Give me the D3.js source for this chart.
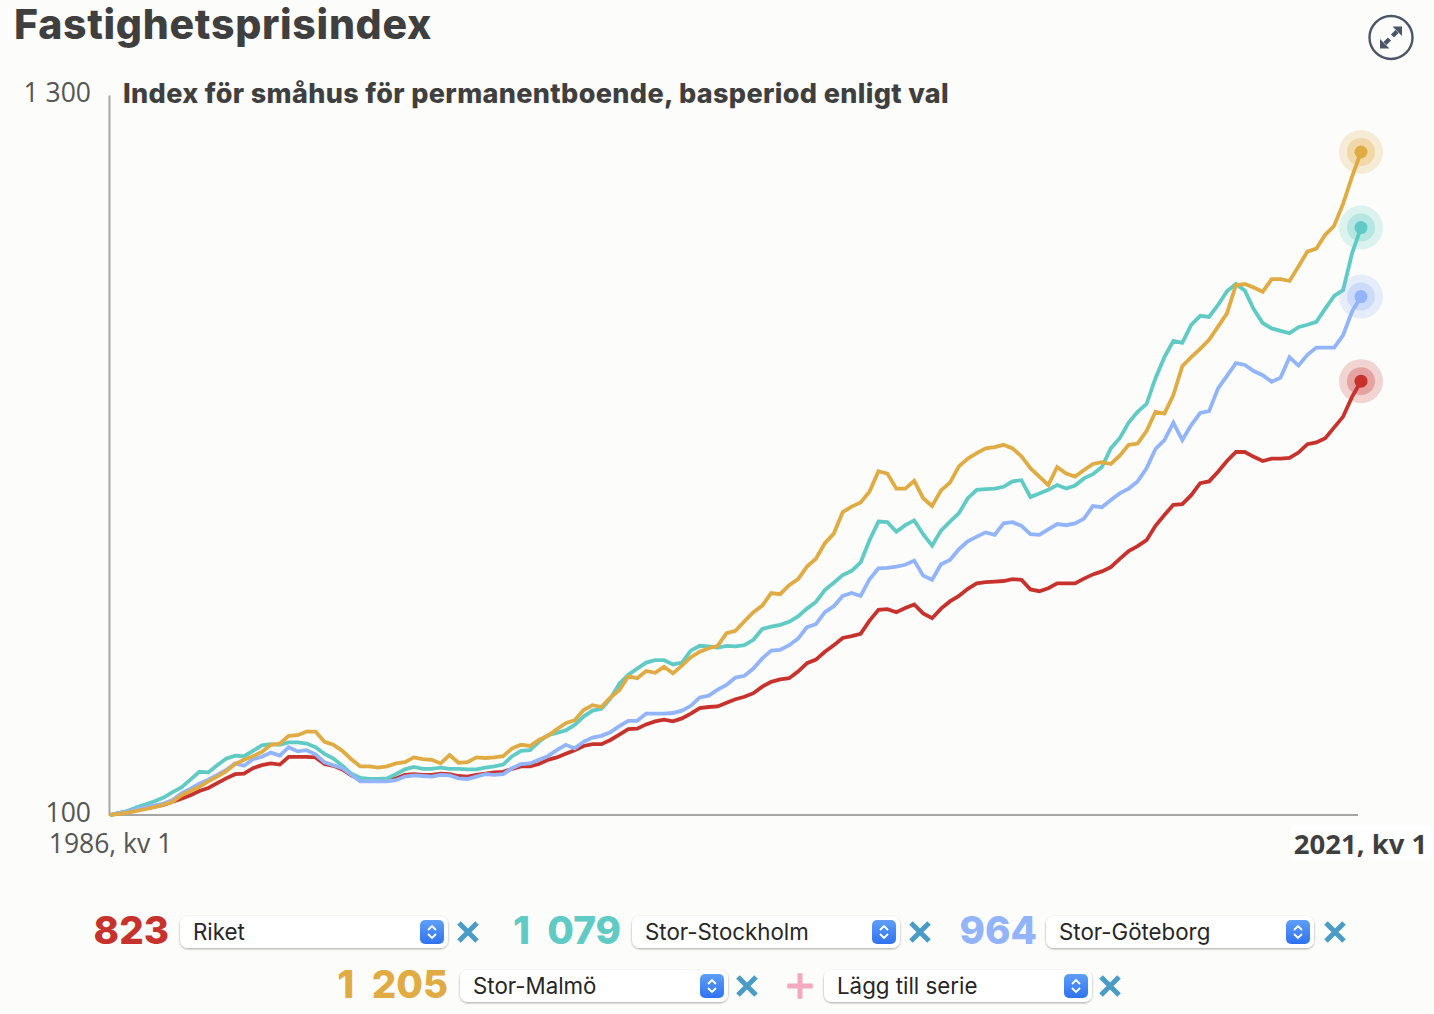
<!DOCTYPE html>
<html lang="sv">
<head>
<meta charset="utf-8">
<title>Fastighetsprisindex</title>
<script src="https://cdn.jsdelivr.net/npm/d3@7"></script>
<style>
  html, body { margin: 0; padding: 0; background: #fcfcfa; overflow: hidden; }
  text { font-family: Inter, "Open Sans", sans-serif; }
  .axis text { font-family: "Open Sans", sans-serif; font-size: 26.5px; fill: #555; }
  .axis path { stroke: #a6a6a4; stroke-width: 2; fill: none; }
  .option { font-family: Inter, sans-serif; font-size: 22.3px; fill: #262626; }
</style>
</head>
<body>
<div id="chart"></div>
<script>
// kvartal 1986 kv 1 .. 2021 kv 1, 141 varden per serie, avlasta ur bilden
var riket = [100,103,106,108,111,114,117,122,127,133,140,145,153,161,168,169,178,183,186,184,197,197,197,196,185,182,176,166,159,160,158,159,161,167,168,167,167,169,168,165,164,167,169,171,172,177,181,181,185,
  192,196,202,208,215,218,218,225,234,243,244,251,256,259,256,261,269,278,280,281,287,293,297,303,314,322,326,328,339,353,359,372,383,395,398,402,424,442,443,438,445,451,436,428,444,456,465,477,
  486,488,489,490,493,492,476,473,478,486,486,486,494,501,506,513,527,540,548,558,582,600,617,618,633,653,656,672,690,705,705,697,690,694,694,695,704,718,721,728,746,764,797,823];
var stockholm = [100,103,107,113,118,123,129,138,146,159,172,171,183,194,199,198,207,216,218,217,221,221,219,213,202,194,182,169,162,160,160,161,168,176,180,177,177,179,177,177,176,176,179,181,184,198,207,208,
  222,233,237,241,250,264,274,277,294,319,334,344,354,358,358,351,354,374,382,381,379,382,381,383,392,410,414,417,422,431,444,455,475,487,500,507,521,558,589,588,572,583,591,568,549,574,589,603,628,
  642,643,644,647,656,658,630,636,642,650,644,649,661,668,680,711,728,754,772,785,828,863,890,887,917,932,930,950,973,985,974,943,920,911,907,903,913,917,922,944,965,975,1036,1079];
var goteborg = [100,103,106,110,113,116,119,125,136,144,152,159,167,175,186,182,193,197,204,199,213,206,208,201,188,183,178,167,156,156,156,156,158,164,166,165,164,167,166,161,160,164,168,167,168,178,185,186,192,
  198,208,217,211,222,229,232,238,248,257,257,269,269,269,270,274,282,296,299,309,317,329,332,344,361,374,375,383,394,413,418,438,448,465,470,465,493,511,512,514,517,524,499,492,518,525,543,556,
  564,571,567,586,588,582,568,567,576,585,583,586,594,615,613,625,636,644,656,678,710,725,754,725,750,770,773,811,832,853,850,840,833,822,829,863,849,867,879,879,879,900,939,964];
var malmo = [100,102,104,107,110,113,117,122,133,140,147,156,164,173,185,192,198,205,217,219,232,233,239,239,222,217,207,193,181,181,179,181,186,188,196,193,192,186,200,187,188,196,195,196,198,211,217,215,
  225,232,243,253,258,275,283,280,296,308,331,328,340,337,347,336,349,363,372,378,382,403,407,423,438,449,470,468,483,493,514,527,553,569,605,614,621,639,673,669,644,644,657,628,615,641,654,681,694,
  703,711,713,717,711,698,678,664,650,680,669,664,675,685,688,685,699,717,719,740,772,769,800,848,863,877,892,914,936,983,985,979,972,993,993,990,1014,1039,1044,1067,1082,1119,1164,1205];

var seriesNames = ["Riket", "Stor-Stockholm", "Stor-Göteborg", "Stor-Malmö"];
var seriesValues = [riket, stockholm, goteborg, malmo];
var seriesColors = ["#c8322d", "#5fcbc4", "#92b4fb", "#e0ab42"];
var yTicks = [100, 1300];
var firstLabel = "1986, kv 1";
var lastLabel = "2021, kv 1";
var title = "Fastighetsprisindex";
var subtitle = "Index för småhus för permanentboende, basperiod enligt val";
var addLabel = "Lägg till serie";

var w = 1434;
var h = 1014;

var svg = d3.select("#chart").append("svg")
  .attr("width", w)
  .attr("height", h)
  .style("display", "block");

var defs = svg.append("defs");
var grad = defs.append("linearGradient").attr("id", "stepper")
  .attr("x1", 0).attr("x2", 0).attr("y1", 0).attr("y2", 1);
grad.append("stop").attr("offset", "0%").attr("stop-color", "#5f9ff8");
grad.append("stop").attr("offset", "100%").attr("stop-color", "#2f72f0");
var shadow = defs.append("filter").attr("id", "boxshadow")
  .attr("x", "-5%").attr("y", "-20%").attr("width", "110%").attr("height", "150%");
shadow.append("feDropShadow").attr("dx", 0).attr("dy", 1).attr("stdDeviation", 1.2)
  .attr("flood-color", "#000").attr("flood-opacity", 0.35);

var xScale = d3.scaleLinear().domain([0, riket.length - 1]).range([110, 1361]);
var yScale = d3.scaleLinear().domain([100, 1300]).range([815, 95]);

// titlar
svg.append("text").text(title)
  .attr("x", 14).attr("y", 39)
  .attr("font-size", 41).attr("font-weight", 800).attr("letter-spacing", 0.7).attr("fill", "#3f3f3f");
svg.append("text").text(subtitle)
  .attr("x", 123).attr("y", 103)
  .attr("font-size", 27).attr("font-weight", 800).attr("letter-spacing", 0.35).attr("fill", "#3f3f3f");

// axlar
var yAxis = d3.axisLeft(yScale)
  .tickValues(yTicks)
  .tickSize(0)
  .tickPadding(18)
  .tickFormat(function(d) { return d3.format(",")(d).replace(",", " "); });
var yG = svg.append("g").attr("class", "axis")
  .attr("transform", "translate(109,0)")
  .call(yAxis);
yG.selectAll(".tick text").attr("dy", "0.26em");

// slutetiketten har vit platta bakom sig
svg.append("rect")
  .attr("x", 1290).attr("y", 825).attr("width", 142).attr("height", 35).attr("rx", 6)
  .attr("fill", "#fff");

var xAxis = d3.axisBottom(xScale)
  .tickValues([0, riket.length - 1])
  .tickSize(0)
  .tickPadding(19)
  .tickFormat(function(d) { return d == 0 ? firstLabel : lastLabel; });
var xG = svg.append("g").attr("class", "axis")
  .attr("transform", "translate(0,815)")
  .call(xAxis);
xG.select(".domain").attr("d", "M109,0H" + (xScale(riket.length - 1) - 3));
xG.selectAll(".tick").filter(function(d) { return d > 0; })
  .select("text")
  .attr("dx", "-1")
  .style("font-weight", 700)
  .style("fill", "#3f3f3f")
  .style("font-size", "27.5px");

// linjer
var line = d3.line()
  .x(function(d, i) { return xScale(i); })
  .y(function(d) { return yScale(d); });

svg.selectAll(".serie")
  .data(seriesValues)
  .enter()
  .append("path")
  .attr("class", "serie")
  .attr("d", line)
  .attr("fill", "none")
  .attr("stroke", function(d, i) { return seriesColors[i]; })
  .attr("stroke-width", 3.8)
  .attr("stroke-linejoin", "miter");

// punkter med ringar pa sista varde
var rings = [[22, 0.2], [14, 0.3], [6.5, 1]];
seriesValues.forEach(function(vals, s) {
  rings.forEach(function(r) {
    svg.append("circle")
      .attr("cx", xScale(vals.length - 1))
      .attr("cy", yScale(vals[vals.length - 1]))
      .attr("r", r[0])
      .attr("fill", seriesColors[s])
      .attr("opacity", r[1]);
  });
});

// expandera-knappen
var expand = svg.append("g").attr("transform", "translate(1391,37.5)");
expand.append("circle").attr("r", 21.5)
  .attr("fill", "none").attr("stroke", "#4a5568").attr("stroke-width", 2.4);
expand.append("path")
  .attr("d", "M-6,6L-1.5,1.5M1.5,-1.5L6,-6")
  .attr("stroke", "#4a5568").attr("stroke-width", 4.5);
expand.append("path").attr("d", "M-11,11V1.5L-1.5,11Z M11,-11V-1.5L1.5,-11Z")
  .attr("fill", "#4a5568");

// kontrollerna under diagrammet
function drawCross(x, y, color, rotate) {
  svg.append("path")
    .attr("transform", "translate(" + x + "," + y + ") rotate(" + rotate + ")")
    .attr("d", "M-9,-9L9,9M-9,9L9,-9")
    .attr("stroke", color)
    .attr("stroke-width", 5)
    .attr("fill", "none");
}

function drawSelect(x, y, label) {
  var g = svg.append("g").attr("transform", "translate(" + x + "," + y + ")");
  g.append("rect").attr("width", 268).attr("height", 32).attr("rx", 8)
    .attr("fill", "#fff").attr("filter", "url(#boxshadow)");
  g.append("text").attr("class", "option").text(label)
    .attr("x", 13).attr("y", 24);
  g.append("rect").attr("x", 240).attr("y", 4).attr("width", 24).attr("height", 24).attr("rx", 5)
    .attr("fill", "url(#stepper)");
  g.append("path").attr("d", "M248,14L252,10L256,14M248,18L252,22L256,18")
    .attr("fill", "none").attr("stroke", "#fff").attr("stroke-width", 1.8);
}

var valueRight = [169, 621, 1037, 448];
var selectLeft = [180, 632, 1046, 460];
var crossX = [468, 920, 1335, 747];
var rowY = [916, 916, 916, 970];

seriesNames.forEach(function(name, s) {
  var vals = seriesValues[s];
  svg.append("text")
    .text(d3.format(",")(vals[vals.length - 1]).replace(",", " "))
    .attr("x", valueRight[s])
    .attr("y", rowY[s] + 28)
    .attr("text-anchor", "end")
    .attr("font-size", 38.5)
    .attr("font-weight", 800)
    .attr("word-spacing", 9)
    .attr("fill", seriesColors[s]);
  drawSelect(selectLeft[s], rowY[s], name);
  drawCross(crossX[s], rowY[s] + 16, "#4a9bc6", 0);
});

// lagg till serie
drawCross(800, 986, "#f4a9c0", 45);
drawSelect(824, 970, addLabel);
drawCross(1110, 986, "#4a9bc6", 0);
</script>
</body>
</html>
